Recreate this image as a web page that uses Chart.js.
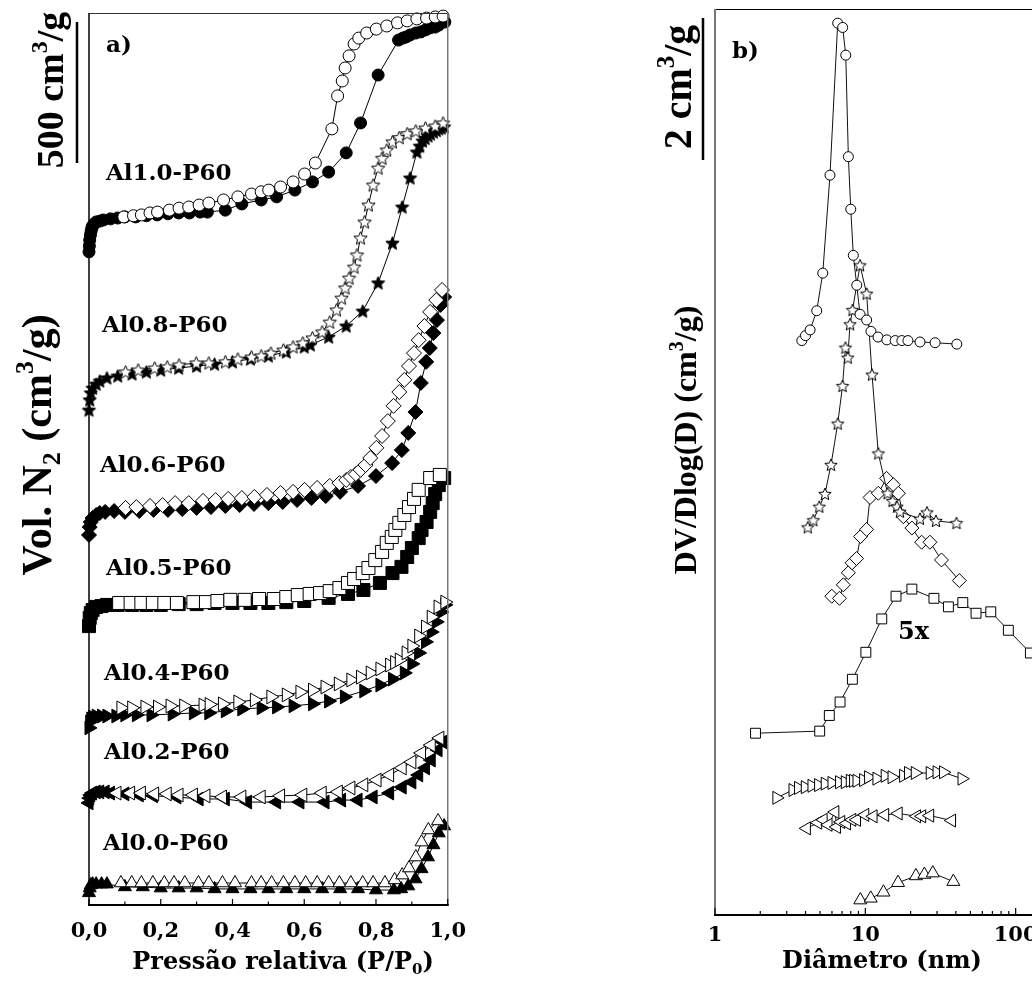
<!DOCTYPE html>
<html><head><meta charset="utf-8">
<script src="https://cdn.jsdelivr.net/npm/chart.js@4.4.1/dist/chart.umd.min.js"></script>
<style>
html,body{margin:0;padding:0;background:#fff;overflow:hidden;width:1032px;height:981px;position:relative;}
#wa{position:absolute;left:0;top:0;width:480px;height:981px;}
#wb{position:absolute;left:620px;top:0;width:640px;height:981px;}
</style></head><body>
<div id="wa"><canvas id="ca"></canvas></div>
<div id="wb"><canvas id="cb"></canvas></div>
<script>
// ---------- Panel a) : N2 isotherms (P/P0, offset volume cm3/g) ----------
const a10_ads_P = [0,0.001,0.002,0.004,0.006,0.008,0.01,0.014,0.02,0.03,0.04,0.06,0.08,0.1,0.13,0.16,0.19,0.22,0.25,0.28,0.31,0.33,0.38,0.426,0.48,0.523,0.574,0.623,0.668,0.717,0.757,0.806,0.863,0.875,0.884,0.895,0.911,0.925,0.938,0.95,0.965,0.975,0.992];
const a10_ads_V = [2316,2337,2358,2376,2390,2401,2408,2415,2422,2425,2429,2433,2436,2440,2440,2444,2447,2451,2454,2454,2457,2457,2464,2486,2500,2511,2535,2564,2599,2667,2773,2943,3067,3074,3078,3085,3092,3096,3103,3110,3113,3120,3131];
const a10_des_P = [0.097,0.124,0.146,0.17,0.191,0.224,0.251,0.278,0.307,0.334,0.375,0.415,0.453,0.48,0.501,0.534,0.569,0.601,0.631,0.677,0.693,0.706,0.714,0.725,0.739,0.752,0.774,0.801,0.83,0.86,0.887,0.914,0.941,0.965,0.987];
const a10_des_V = [2440,2444,2447,2454,2457,2464,2471,2475,2482,2489,2500,2511,2521,2529,2535,2546,2564,2592,2631,2752,2869,2922,2968,3011,3053,3074,3092,3106,3117,3128,3135,3142,3145,3149,3152];

const a08_ads_P = [0,0.002,0.005,0.01,0.02,0.03,0.05,0.08,0.12,0.16,0.2,0.25,0.3,0.35,0.4,0.45,0.5,0.55,0.6,0.617,0.668,0.717,0.763,0.806,0.846,0.873,0.895,0.914,0.922,0.93,0.937,0.945,0.952,0.96,0.968,0.975,0.982,0.99];
const a08_ads_V = [1755,1791,1816,1833,1847,1858,1869,1876,1883,1890,1897,1904,1911,1918,1926,1936,1947,1961,1979,1986,2014,2053,2106,2206,2347,2475,2578,2670,2691,2709,2718,2727,2734,2741,2746,2752,2755,2759];
const a08_des_P = [0.102,0.137,0.183,0.218,0.251,0.299,0.334,0.380,0.415,0.453,0.480,0.507,0.542,0.569,0.596,0.623,0.650,0.671,0.690,0.704,0.714,0.725,0.739,0.747,0.757,0.768,0.779,0.792,0.806,0.817,0.830,0.846,0.865,0.887,0.911,0.938,0.965,0.987];
const a08_des_V = [1890,1897,1904,1908,1915,1922,1922,1926,1936,1943,1947,1957,1968,1979,1993,2011,2032,2067,2110,2152,2188,2223,2262,2305,2365,2422,2482,2553,2613,2648,2677,2706,2721,2735,2745,2755,2762,2773];

const a06_ads_P = [0,0.002,0.005,0.01,0.02,0.03,0.045,0.07,0.1,0.14,0.18,0.22,0.26,0.3,0.34,0.38,0.42,0.46,0.5,0.54,0.58,0.62,0.66,0.7,0.75,0.8,0.845,0.872,0.89,0.91,0.925,0.94,0.95,0.96,0.97,0.98,0.99];
const a06_ads_V = [1312,1340,1358,1372,1383,1390,1394,1397,1394,1397,1401,1401,1404,1408,1411,1415,1418,1422,1425,1429,1436,1443,1450,1465,1486,1521,1567,1613,1674,1748,1851,1926,1975,2028,2074,2128,2156];
const a06_des_P = [0.102,0.132,0.170,0.205,0.240,0.278,0.318,0.353,0.388,0.426,0.461,0.496,0.534,0.569,0.601,0.636,0.671,0.698,0.717,0.730,0.744,0.757,0.771,0.784,0.801,0.817,0.833,0.849,0.865,0.879,0.892,0.906,0.919,0.935,0.951,0.968,0.984];
const a06_des_V = [1408,1411,1415,1418,1425,1425,1433,1436,1440,1443,1447,1454,1461,1465,1472,1479,1486,1496,1507,1518,1528,1543,1560,1585,1621,1663,1716,1770,1819,1862,1911,1957,2003,2053,2103,2145,2181];

const a05_ads_P = [0,0.002,0.005,0.01,0.02,0.035,0.05,0.08,0.12,0.16,0.2,0.25,0.3,0.35,0.4,0.45,0.5,0.55,0.6,0.668,0.722,0.765,0.811,0.846,0.871,0.887,0.9,0.919,0.927,0.941,0.951,0.958,0.965,0.975,0.99];
const a05_ads_V = [989,1018,1035,1046,1057,1060,1064,1064,1064,1064,1064,1067,1067,1071,1071,1071,1071,1074,1078,1089,1103,1117,1142,1177,1199,1234,1266,1301,1330,1358,1394,1425,1457,1489,1514];
const a05_des_P = [0.084,0.116,0.146,0.178,0.210,0.245,0.291,0.326,0.358,0.394,0.434,0.474,0.515,0.550,0.582,0.615,0.644,0.671,0.698,0.722,0.739,0.763,0.779,0.798,0.817,0.830,0.844,0.854,0.865,0.879,0.892,0.906,0.919,0.951,0.978];
const a05_des_V = [1071,1071,1071,1071,1071,1071,1074,1074,1078,1082,1082,1085,1085,1092,1099,1103,1106,1113,1124,1142,1156,1177,1195,1223,1252,1284,1305,1330,1355,1383,1411,1440,1472,1514,1525];

const a04_ads_P = [0,0.002,0.005,0.01,0.02,0.035,0.05,0.075,0.1,0.132,0.173,0.232,0.291,0.334,0.380,0.426,0.480,0.523,0.569,0.623,0.668,0.712,0.766,0.811,0.846,0.879,0.900,0.919,0.938,0.954,0.968,0.981,0.992];
const a04_ads_V = [628,649,660,667,670,670,670,670,674,674,674,677,681,681,688,695,699,702,706,713,723,738,759,780,801,823,855,894,933,968,1004,1039,1064];
const a04_des_P = [0.089,0.119,0.156,0.191,0.226,0.264,0.318,0.335,0.372,0.415,0.461,0.507,0.550,0.588,0.623,0.658,0.695,0.730,0.757,0.784,0.811,0.838,0.852,0.865,0.884,0.900,0.919,0.938,0.954,0.973,0.992];
const a04_des_V = [699,699,702,702,706,706,709,711,713,720,727,738,745,755,762,773,784,798,808,823,837,851,860,869,894,918,954,986,1021,1057,1074];

const a02_ads_P = [0,0.002,0.005,0.01,0.02,0.03,0.045,0.06,0.1,0.14,0.18,0.245,0.307,0.38,0.442,0.523,0.588,0.658,0.704,0.75,0.792,0.838,0.873,0.9,0.919,0.938,0.954,0.973,0.987];
const a02_ads_V = [362,379,390,397,401,401,401,397,394,390,387,383,376,376,365,365,365,365,372,372,383,397,418,436,461,486,514,550,578];
const a02_des_P = [0.078,0.116,0.146,0.183,0.218,0.251,0.291,0.326,0.372,0.426,0.480,0.534,0.596,0.650,0.695,0.730,0.766,0.803,0.838,0.873,0.900,0.927,0.954,0.978];
const a02_des_V = [397,397,397,394,394,390,390,387,383,383,383,387,390,397,401,415,426,443,461,486,507,539,567,592];

const a00_ads_P = [0,0.002,0.005,0.01,0.02,0.035,0.05,0.1,0.15,0.2,0.25,0.3,0.35,0.4,0.45,0.5,0.55,0.6,0.65,0.7,0.75,0.8,0.85,0.87,0.89,0.91,0.927,0.945,0.96,0.975,0.99];
const a00_ads_V = [43,60,71,74,74,74,74,64,64,60,60,60,57,57,57,57,57,57,57,57,57,53,53,57,67,92,128,170,213,255,280];
const a00_des_P = [0.089,0.119,0.146,0.178,0.210,0.237,0.267,0.305,0.334,0.372,0.407,0.453,0.480,0.509,0.542,0.574,0.604,0.636,0.668,0.698,0.730,0.763,0.792,0.825,0.852,0.873,0.892,0.911,0.927,0.946,0.973];
const a00_des_V = [78,78,78,78,78,78,78,78,78,78,78,78,78,78,78,78,78,78,78,78,78,78,78,78,89,106,131,170,223,266,298];

const A_TICKS = [0,0.2,0.4,0.6,0.8,1.0];
const A_LABELS = ['Al1.0-P60','Al0.8-P60','Al0.6-P60','Al0.5-P60','Al0.4-P60','Al0.2-P60','Al0.0-P60'];

// ---------- Panel b) : pore size distributions (D nm, offset DV/dlogD) ----------
const b10_D = [3.78,4.0,4.29,4.75,5.21,5.82,6.55,7.07,7.41,7.71,8.0,8.32,8.77,9.22,10.2,10.9,12.15,13.9,15.8,17.5,19.2,23.1,29.1,40.6];
const b10_V = [8.09,8.16,8.24,8.51,9.04,10.42,12.56,12.50,12.11,10.68,9.94,9.29,8.87,8.46,8.38,8.22,8.14,8.10,8.09,8.09,8.09,8.07,8.06,8.04];
const b08_D = [4.14,4.51,4.94,5.39,5.91,6.55,7.05,7.38,7.64,7.91,8.22,9.22,10.2,11.08,12.2,14.06,15.17,16.25,17.0,23.1,25.7,29.5,40.4];
const b08_V = [5.46,5.56,5.75,5.93,6.34,6.92,7.45,7.99,7.85,8.32,8.52,9.15,8.75,7.61,6.50,5.94,5.83,5.75,5.68,5.58,5.67,5.55,5.52];
const b06_D = [5.98,6.73,7.14,7.71,8.16,8.74,9.29,10.2,10.75,12.2,13.84,15.36,16.58,17.9,20.4,23.7,26.9,32.1,42.2];
const b06_V = [4.49,4.46,4.65,4.82,4.96,5.02,5.33,5.43,5.88,5.94,6.15,6.06,5.94,5.61,5.45,5.25,5.25,5.00,4.71];
const b05_D = [1.86,4.97,5.76,6.79,8.20,10.08,12.86,16.0,20.4,28.6,35.7,44.5,54.5,68.3,89.4,125.3,160];
const b05_V = [2.56,2.59,2.81,3.00,3.32,3.70,4.17,4.49,4.59,4.46,4.34,4.40,4.25,4.27,4.01,3.69,3.35];
const b04_D = [2.57,3.29,3.58,3.97,4.40,4.87,5.39,5.98,6.71,7.33,7.91,8.32,8.77,9.70,10.47,11.9,13.5,15.0,17.9,19.3,21.4,26.9,29.9,33.0,43.8];
const b04_V = [1.65,1.76,1.79,1.80,1.82,1.83,1.85,1.86,1.87,1.87,1.89,1.89,1.89,1.90,1.94,1.92,1.96,1.94,1.96,2.00,2.00,2.00,2.01,2.01,1.92];
const b02_D = [4.07,4.84,5.26,5.67,6.29,6.45,6.89,7.52,8.16,8.77,9.95,11.3,13.5,16.6,22.0,23.8,26.9,37.6];
const b02_V = [1.22,1.30,1.34,1.27,1.45,1.24,1.31,1.29,1.34,1.34,1.41,1.39,1.41,1.43,1.39,1.39,1.40,1.33];
const b00_D = [9.26,10.86,13.2,16.5,21.7,24.7,28.1,38.5];
const b00_V = [0.21,0.235,0.32,0.455,0.55,0.57,0.59,0.47];

const B_TICKS = [1,10,100,1000];

// ---------- helpers ----------
const ser = (X, Y) => X.map((x, i) => ({x: x, y: Y[i]}));

function starImg(r, fill) {
  const s = Math.ceil(r * 2 + 3);
  const c = document.createElement('canvas');
  c.width = s; c.height = s;
  const g = c.getContext('2d');
  g.translate(s / 2, s / 2 + 0.5);
  g.beginPath();
  for (let i = 0; i < 10; i++) {
    const rr = i % 2 ? r * 0.45 : r;
    const a = -Math.PI / 2 + i * Math.PI / 5;
    g.lineTo(rr * Math.cos(a), rr * Math.sin(a));
  }
  g.closePath();
  g.fillStyle = fill; g.fill();
  g.lineWidth = 1; g.strokeStyle = '#000'; g.stroke();
  return c;
}

function ds(X, Y, style, filled, r, rot, order, lineColor) {
  return {
    data: ser(X, Y),
    borderColor: lineColor || '#000', borderWidth: 1, tension: 0, fill: false,
    pointStyle: style, pointRadius: r, pointRotation: rot || 0,
    pointBackgroundColor: filled ? '#000' : '#fff',
    pointBorderColor: '#000', pointBorderWidth: 1,
    order: order, clip: false
  };
}

function richDraw(ctx, segs, x, y, size, fam, rot, align) {
  const subSz = Math.round(size * 0.62);
  let w = 0;
  for (const s of segs) {
    ctx.font = 'bold ' + ((s.sub || s.sup) ? subSz : size) + 'px ' + fam;
    w += ctx.measureText(s.t).width;
  }
  ctx.save();
  ctx.translate(x, y);
  if (rot) ctx.rotate(rot);
  ctx.fillStyle = '#000';
  ctx.textAlign = 'left';
  ctx.textBaseline = 'alphabetic';
  let cx = align === 'left' ? 0 : -w / 2;
  for (const s of segs) {
    ctx.font = 'bold ' + ((s.sub || s.sup) ? subSz : size) + 'px ' + fam;
    const dy = s.sub ? size * 0.22 : (s.sup ? -size * 0.42 : 0);
    ctx.fillText(s.t, cx, dy);
    cx += ctx.measureText(s.t).width;
  }
  ctx.restore();
}

function seg(ctx, x1, y1, x2, y2) { ctx.beginPath(); ctx.moveTo(x1, y1); ctx.lineTo(x2, y2); ctx.stroke(); }

const SERIF = '"Liberation Serif", "Times New Roman", serif';
const DSERIF = '"DejaVu Serif", serif';

// ---------- chart a ----------
const starOpenA = starImg(7, '#fff'), starFillA = starImg(7, '#000');

const plugA = {
  id: 'decoA',
  afterDraw(chart) {
    const ctx = chart.ctx, a = chart.chartArea, xs = chart.scales.x;
    ctx.save();
    ctx.lineCap = 'butt';
    ctx.strokeStyle = '#333'; ctx.lineWidth = 1; seg(ctx, a.left, a.top + 0.5, a.right, a.top + 0.5);
    ctx.strokeStyle = '#777'; ctx.lineWidth = 1.5; seg(ctx, a.right, a.top, a.right, a.bottom);
    ctx.strokeStyle = '#000'; ctx.lineWidth = 1.5; seg(ctx, a.left, a.top, a.left, a.bottom);
    ctx.lineWidth = 2; seg(ctx, a.left - 1, a.bottom, a.right + 1, a.bottom);
    ctx.lineWidth = 1.2;
    for (let i = 0; i <= 10; i++) {
      const x = xs.getPixelForValue(i / 10);
      seg(ctx, x, a.bottom, x, a.bottom - (i % 2 === 0 ? 6 : 3.5));
    }
    // scale bar
    ctx.lineWidth = 2.5; seg(ctx, 77, 22, 77, 163);
    richDraw(ctx, [{t: '500 cm'}, {t: '3', sup: true}, {t: '/g'}], 63, 90, 38, SERIF, -Math.PI / 2);
    richDraw(ctx, [{t: 'Vol. N'}, {t: '2', sub: true}, {t: ' (cm'}, {t: '3', sup: true}, {t: '/g)'}], 51, 445, 42, SERIF, -Math.PI / 2);
    richDraw(ctx, [{t: 'Pressão relativa (P/P'}, {t: '0', sub: true}, {t: ')'}], 283, 969, 24, DSERIF, 0);
    ctx.fillStyle = '#000';
    ctx.font = 'bold 23px ' + DSERIF;
    ctx.textAlign = 'left'; ctx.textBaseline = 'alphabetic';
    ctx.fillText('a)', 106, 52);
    const pos = [[106, 180], [102, 332], [100, 472], [106, 575], [104, 680], [104, 759], [103, 850]];
    A_LABELS.forEach((t, i) => ctx.fillText(t, pos[i][0], pos[i][1]));
    ctx.restore();
  }
};

new Chart(document.getElementById('ca'), {
  type: 'line',
  data: {
    datasets: [
      ds(a10_des_P, a10_des_V, 'circle', false, 6, 0, 1),
      ds(a10_ads_P, a10_ads_V, 'circle', true, 6, 0, 2),
      ds(a08_des_P, a08_des_V, starOpenA, false, 7, 0, 1),
      ds(a08_ads_P, a08_ads_V, starFillA, true, 7, 0, 2),
      ds(a06_des_P, a06_des_V, 'rectRot', false, 7.5, 0, 1),
      ds(a06_ads_P, a06_ads_V, 'rectRot', true, 7.5, 0, 2),
      ds(a05_des_P, a05_des_V, 'rect', false, 9.2, 0, 1),
      ds(a05_ads_P, a05_ads_V, 'rect', true, 9.2, 0, 2),
      ds(a04_des_P, a04_des_V, 'triangle', false, 8, 90, 1),
      ds(a04_ads_P, a04_ads_V, 'triangle', true, 8, 90, 2),
      ds(a02_des_P, a02_des_V, 'triangle', false, 8, -90, 1),
      ds(a02_ads_P, a02_ads_V, 'triangle', true, 8, -90, 2),
      ds(a00_des_P, a00_des_V, 'triangle', false, 7.5, 0, 1),
      ds(a00_ads_P, a00_ads_V, 'triangle', true, 7.5, 0, 2)
    ]
  },
  options: {
    responsive: true, maintainAspectRatio: false, animation: false, events: [],
    layout: {padding: {top: 13, left: 89, right: 20, bottom: 0}},
    plugins: {legend: {display: false}, tooltip: {enabled: false}},
    scales: {
      x: {
        type: 'linear', min: 0, max: 1,
        afterFit: s => { s.height = 76; },
        afterBuildTicks: s => { s.ticks = A_TICKS.map(v => ({value: v})); },
        grid: {display: false, drawTicks: false}, border: {display: false},
        ticks: {autoSkip: false, maxRotation: 0, padding: 14, color: '#000',
          font: {family: 'DejaVu Serif', weight: 'bold', size: 21},
          callback: v => Number(v).toFixed(1).replace('.', ',')}
      },
      y: {type: 'linear', min: 0, max: 3163, display: false}
    }
  },
  plugins: [plugA]
});

// ---------- chart b ----------
const OX = 620;
const starOpenB = starImg(6.5, '#fff');

const plugB = {
  id: 'decoB',
  afterDraw(chart) {
    const ctx = chart.ctx, a = chart.chartArea, xs = chart.scales.x;
    ctx.save();
    ctx.strokeStyle = '#000'; ctx.lineWidth = 1; seg(ctx, a.left, a.top + 0.5, a.right, a.top + 0.5);
    ctx.strokeStyle = '#777'; ctx.lineWidth = 2; seg(ctx, a.left, a.top, a.left, a.bottom);
    ctx.strokeStyle = '#000'; ctx.lineWidth = 2; seg(ctx, a.left - 1, a.bottom, a.right, a.bottom);
    ctx.lineWidth = 1.2;
    for (let d = 0; d < 3; d++) {
      for (let k = 1; k <= 9; k++) {
        const x = xs.getPixelForValue(k * Math.pow(10, d));
        seg(ctx, x, a.bottom, x, a.bottom - (k === 1 ? 7 : 4));
      }
    }
    ctx.lineWidth = 2.5; seg(ctx, 703 - OX, 18, 703 - OX, 160);
    richDraw(ctx, [{t: '2 cm'}, {t: '3', sup: true}, {t: '/g'}], 691 - OX, 87, 40, SERIF, -Math.PI / 2);
    richDraw(ctx, [{t: 'DV/Dlog(D) (cm'}, {t: '3', sup: true}, {t: '/g)'}], 696 - OX, 440, 32, SERIF, -Math.PI / 2);
    richDraw(ctx, [{t: 'Diâmetro (nm)'}], 882 - OX, 968, 24, DSERIF, 0);
    ctx.fillStyle = '#000';
    ctx.textAlign = 'left'; ctx.textBaseline = 'alphabetic';
    ctx.font = 'bold 23px ' + DSERIF;
    ctx.fillText('b)', 732 - OX, 58);
    ctx.font = 'bold 24px ' + DSERIF;
    ctx.fillText('5x', 898 - OX, 639);
    ctx.restore();
  }
};

new Chart(document.getElementById('cb'), {
  type: 'line',
  data: {
    datasets: [
      ds(b10_D, b10_V, 'circle', false, 5, 0, 1, '#111'),
      ds(b08_D, b08_V, starOpenB, false, 6.5, 0, 1, '#111'),
      ds(b06_D, b06_V, 'rectRot', false, 7, 0, 1, '#111'),
      ds(b05_D, b05_V, 'rect', false, 7, 0, 1, '#111'),
      ds(b04_D, b04_V, 'triangle', false, 7.5, 90, 1, '#111'),
      ds(b02_D, b02_V, 'triangle', false, 7.5, -90, 1, '#111'),
      ds(b00_D, b00_V, 'triangle', false, 7.5, 0, 1, '#111')
    ]
  },
  options: {
    responsive: true, maintainAspectRatio: false, animation: false, events: [],
    layout: {padding: {top: 9, left: 95, right: 94, bottom: 0}},
    plugins: {legend: {display: false}, tooltip: {enabled: false}},
    scales: {
      x: {
        type: 'logarithmic', min: 1, max: 1000,
        afterFit: s => { s.height = 66; },
        afterBuildTicks: s => { s.ticks = B_TICKS.map(v => ({value: v})); },
        grid: {display: false, drawTicks: false}, border: {display: false},
        ticks: {autoSkip: false, maxRotation: 0, padding: 8, color: '#000',
          font: {family: 'DejaVu Serif', weight: 'bold', size: 21},
          callback: v => String(v)}
      },
      y: {type: 'linear', min: 0, max: 12.76, display: false}
    }
  },
  plugins: [plugB]
});
</script></body></html>
